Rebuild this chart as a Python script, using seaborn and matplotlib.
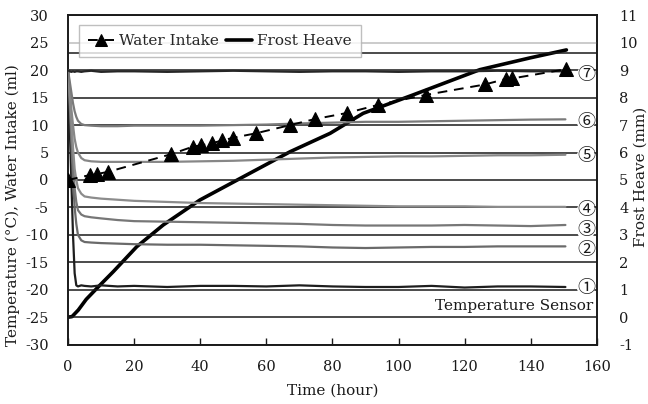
import matplotlib
matplotlib.use("Agg")
import matplotlib.pyplot as plt
import matplotlib.ticker as mticker
import numpy as np
import pandas as pd
import seaborn as sns

# ---------------- data ----------------
sensor_time = [0, 0.5, 1, 1.5, 2, 2.5, 3, 4, 5, 7, 10, 15, 20, 30, 40, 50,
               60, 70, 80, 90, 100, 110, 120, 130, 140, 150.5]
sensor1 = [20, 10, 0, -10, -17, -19.2, -19.4, -19.2, -19.3, -19.4, -19.2, -19.4, -19.3,
           -19.5, -19.3, -19.3, -19.4, -19.2, -19.4, -19.5, -19.5, -19.3, -19.6, -19.4, -19.4, -19.5]
sensor2 = [20, 14, 7, 0, -5, -8, -10, -11, -11.3, -11.4, -11.5, -11.6, -11.7,
           -11.8, -11.8, -11.9, -12.0, -12.1, -12.3, -12.4, -12.3, -12.2, -12.2, -12.1, -12.1, -12.1]
sensor3 = [20, 15, 9, 3, -1.5, -4, -5.5, -6.3, -6.6, -6.8, -7.0, -7.3, -7.5,
           -7.6, -7.7, -7.8, -7.9, -8.0, -8.2, -8.3, -8.3, -8.3, -8.2, -8.3, -8.4, -8.2]
sensor4 = [20, 16, 11, 6, 2, 0, -1.5, -2.5, -3.0, -3.2, -3.4, -3.6, -3.8,
           -4.0, -4.2, -4.3, -4.4, -4.5, -4.6, -4.7, -4.8, -4.8, -4.8, -4.9, -4.9, -4.9]
sensor5 = [20, 17, 13, 10, 7.5, 6, 5, 4, 3.6, 3.4, 3.3, 3.3, 3.3,
           3.3, 3.4, 3.5, 3.7, 3.9, 4.1, 4.2, 4.3, 4.3, 4.4, 4.5, 4.5, 4.6]
sensor6 = [20, 18, 16, 14, 12.5, 11.5, 10.8, 10.2, 10.0, 9.9, 9.8, 9.8, 9.9,
           9.9, 9.9, 10.0, 10.1, 10.3, 10.45, 10.6, 10.6, 10.7, 10.8, 10.9, 11.0, 11.05]
sensor7 = [20, 19.8, 19.7, 19.8, 19.7, 19.8, 19.8, 19.7, 19.8, 19.9, 19.7, 19.8, 19.8,
           19.7, 19.8, 19.9, 19.8, 19.7, 19.8, 19.8, 19.7, 19.8, 19.8, 19.9, 19.8, 19.8]

intake_time = [0, 6.6, 8.9, 12.2, 31.2, 37.9, 40.1, 43.5, 46.7, 50.0, 56.8, 67.2,
               74.7, 84.3, 93.9, 108.2, 126.1, 132.4, 134.4, 150.8]
intake_ml = [0, 0.9, 1.1, 1.5, 4.7, 6.1, 6.3, 6.7, 7.2, 7.7, 8.5, 10.0,
             11.1, 12.2, 13.7, 15.5, 17.4, 18.4, 18.5, 20.2]

heave_time = [0, 1.2, 3.1, 5.5, 8.7, 13.7, 20.8, 28.8, 39.9, 54.0, 67.2, 79.3,
              89.3, 104.4, 124.6, 139.8, 150.8]
heave_mm = [0, 0.02, 0.26, 0.65, 1.05, 1.66, 2.57, 3.36, 4.27, 5.18, 6.03, 6.7,
            7.43, 8.1, 9.02, 9.45, 9.74]

sensor_labels = ["\u2460", "\u2461", "\u2462", "\u2463", "\u2464", "\u2465", "\u2466"]
sensor_colors = ["#1e1e1e", "#6a6a6a", "#777777", "#8c8c8c", "#878787", "#7a7a7a", "#262626"]

# ---------------- plot ----------------
sns.set_theme(style="white")
plt.rcParams["font.family"] = ["DejaVu Serif", "Noto Sans CJK JP"]
plt.rcParams["axes.unicode_minus"] = False

fig = plt.figure(figsize=(6.48, 4.04), dpi=100)
ax = fig.add_axes([0.105, 0.147, 0.816, 0.815])
ax2 = ax.twinx()

fs = 11
tfs = 10.5
sensors = [sensor1, sensor2, sensor3, sensor4, sensor5, sensor6, sensor7]
for vals, col in zip(sensors, sensor_colors):
    sns.lineplot(x=sensor_time, y=vals, ax=ax, color=col, linewidth=1.6, legend=False, zorder=3)

sns.lineplot(x=intake_time, y=intake_ml, ax=ax, color="black", linestyle=(0, (5, 3.5)),
             linewidth=1.4, marker="^", markersize=10, markeredgecolor="black", legend=False, zorder=5)
sns.lineplot(x=heave_time, y=heave_mm, ax=ax2, color="black", linewidth=2.6, legend=False, zorder=5)

ax.set_xlim(0, 160)
ax.set_ylim(-30, 30)
ax2.set_ylim(-1, 11)
ax.set_xticks(np.arange(0, 161, 20))
ax.set_yticks(np.arange(-30, 31, 5))
ax2.set_yticks(np.arange(-1, 12, 1))
fmt = mticker.FuncFormatter(lambda v, p: "%d" % v)
ax.yaxis.set_major_formatter(fmt)
ax2.yaxis.set_major_formatter(fmt)

ax.yaxis.grid(True, color="#1a1a1a", linewidth=1.1)
ax.set_axisbelow(True)
for v, gl in zip(ax.get_yticks(), ax.get_ygridlines()):
    if abs(v - 25) < 1e-6:
        gl.set_color("#bdbdbd")
ax.axhline(23.1, color="#1a1a1a", linewidth=1.1, zorder=1)

ax.tick_params(axis="y", length=0, pad=14, labelsize=tfs, colors="#1a1a1a")
ax2.tick_params(axis="y", length=0, pad=16, labelsize=tfs, colors="#1a1a1a")
ax.tick_params(axis="x", direction="in", length=5, width=1, pad=11, labelsize=tfs,
               colors="#1a1a1a", bottom=True)
for a in (ax, ax2):
    for s in a.spines.values():
        s.set_color("#1a1a1a")
        s.set_linewidth(1.2)

ax.set_xlabel("Time (hour)", fontsize=fs, color="#1a1a1a", labelpad=7)
ax.set_ylabel("Temperature (\u00b0C), Water Intake (ml)", fontsize=fs, color="#1a1a1a")
ax.yaxis.set_label_coords(-0.091, 0.425)
ax2.set_ylabel("Frost Heave (mm)", fontsize=fs, color="#1a1a1a")
ax2.yaxis.set_label_coords(1.07, 0.51)

# sensor number annotations
label_y = [-19.6, -12.8, -9.2, -5.5, 4.4, 10.6, 19.2]
for lab, yy in zip(sensor_labels, label_y):
    ax.text(156.7, yy, lab, ha="center", va="center", fontsize=13, color="#1a1a1a",
            family=["Noto Sans CJK JP", "DejaVu Sans"], zorder=6,
            bbox=dict(boxstyle="circle,pad=0.0", fc="white", ec="none"))
ax.text(158.8, -23.0, "Temperature Sensor", ha="right", va="center", fontsize=fs, color="#1a1a1a")

# legend
h1 = ax.get_lines()[7]
h2 = ax2.get_lines()[0]
leg = ax.legend([h1, h2], ["Water Intake", "Frost Heave"], ncol=2, loc="upper left",
                bbox_to_anchor=(0.021, 0.971), borderaxespad=0, fontsize=fs, frameon=True,
                fancybox=False, handlelength=1.7, handletextpad=0.3, columnspacing=0.5,
                borderpad=0.6, markerscale=0.8)
leg.get_frame().set_edgecolor("#b0b0b0")
leg.get_frame().set_linewidth(1.0)
leg.set_zorder(10)
ax.set_zorder(ax2.get_zorder() + 1)
ax.patch.set_visible(False)

fig.savefig("out.png", dpi=100)
